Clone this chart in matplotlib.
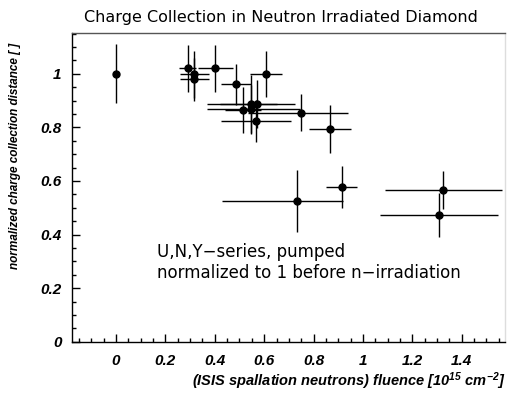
import matplotlib
matplotlib.use('Agg')
import numpy as np
from matplotlib import pyplot as plt
from matplotlib.ticker import MultipleLocator

plt.rcParams['mathtext.fontset'] = 'custom'
plt.rcParams['mathtext.rm'] = 'Liberation Sans:italic:bold'
plt.rcParams['mathtext.it'] = 'Liberation Sans:italic:bold'
plt.rcParams['mathtext.default'] = 'it'

# fluence [1e15 cm^-2] and normalized charge collection distance
fluence = [0.0, 0.290, 0.317, 0.317, 0.403, 0.486, 0.607,
           0.515, 0.545, 0.545, 0.572, 0.566, 0.751, 0.866,
           0.731, 0.914, 1.326, 1.308]
ccd = [1.000, 1.020, 0.998, 0.979, 1.020, 0.960, 0.999,
       0.865, 0.886, 0.868, 0.886, 0.825, 0.855, 0.794,
       0.526, 0.576, 0.566, 0.473]
fluence_err_lo = [0.0, 0.035, 0.058, 0.058, 0.071, 0.060, 0.065,
                  0.074, 0.178, 0.178, 0.150, 0.142, 0.217, 0.086,
                  0.303, 0.063, 0.236, 0.237]
fluence_err_hi = [0.0, 0.035, 0.058, 0.058, 0.071, 0.060, 0.067,
                  0.074, 0.106, 0.199, 0.153, 0.142, 0.188, 0.086,
                  0.190, 0.063, 0.236, 0.237]
ccd_err = [0.110, 0.087, 0.087, 0.080, 0.089, 0.077, 0.084,
           0.087, 0.110, 0.090, 0.090, 0.078, 0.070, 0.090,
           0.115, 0.078, 0.070, 0.082]

fig = plt.figure(figsize=(5.07, 3.96), dpi=100)
ax = fig.add_axes([0.142, 0.137, 0.854, 0.779])

ax.errorbar(fluence, ccd, xerr=[fluence_err_lo, fluence_err_hi], yerr=ccd_err,
            fmt='o', color='black', ecolor='black', elinewidth=1.0,
            markersize=5, capsize=0)

ax.set_xlim(-0.178, 1.575)
ax.set_ylim(0, 1.151)

ax.xaxis.set_major_locator(MultipleLocator(0.2))
ax.xaxis.set_minor_locator(MultipleLocator(0.05))
ax.yaxis.set_major_locator(MultipleLocator(0.2))
ax.yaxis.set_minor_locator(MultipleLocator(0.05))
ax.tick_params(which='both', direction='in', top=False, right=False)
ax.tick_params(which='major', length=5.8, width=1)
ax.tick_params(which='minor', length=2.9, width=1)
ax.tick_params(axis='x', pad=9)
ax.tick_params(axis='y', pad=7.5)

ax.xaxis.set_major_formatter(plt.FuncFormatter(lambda v, p: f'{v:g}' if abs(v) > 1e-9 else '0'))
ax.yaxis.set_major_formatter(plt.FuncFormatter(lambda v, p: f'{v:g}' if abs(v) > 1e-9 else '0'))
for lab in ax.get_xticklabels() + ax.get_yticklabels():
    lab.set_fontfamily('Liberation Sans')
    lab.set_fontweight('bold')
    lab.set_fontstyle('italic')
    lab.set_fontsize(11)

for s in ax.spines.values():
    s.set_linewidth(1)
ax.spines['top'].set_color('#555555')
ax.spines['right'].set_color('#dddddd')

ax.set_ylabel('normalized charge collection distance [ ]', fontfamily='Liberation Sans',
              fontweight='bold', fontstyle='italic', fontsize=8.5, ha='right', va='center')
ax.yaxis.set_label_coords(-0.132, 0.969)

ax.set_xlabel(r'(ISIS spallation neutrons) fluence [$10^{15}$ cm$^{-2}$]',
              fontfamily='Liberation Sans', fontweight='bold', fontstyle='italic',
              fontsize=10.5, ha='right', va='center')
ax.xaxis.set_label_coords(1.0, -0.128)

fig.text(0.555, 0.957, 'Charge Collection in Neutron Irradiated Diamond',
         fontfamily='DejaVu Sans', fontsize=11.5, ha='center', va='center')

ax.text(0.165, 0.335, 'U,N,Y\u2212series, pumped', fontfamily='DejaVu Sans',
        fontsize=12, ha='left', va='center')
ax.text(0.165, 0.258, 'normalized to 1 before n\u2212irradiation', fontfamily='DejaVu Sans',
        fontsize=12, ha='left', va='center')

fig.savefig('out.png', dpi=100)
